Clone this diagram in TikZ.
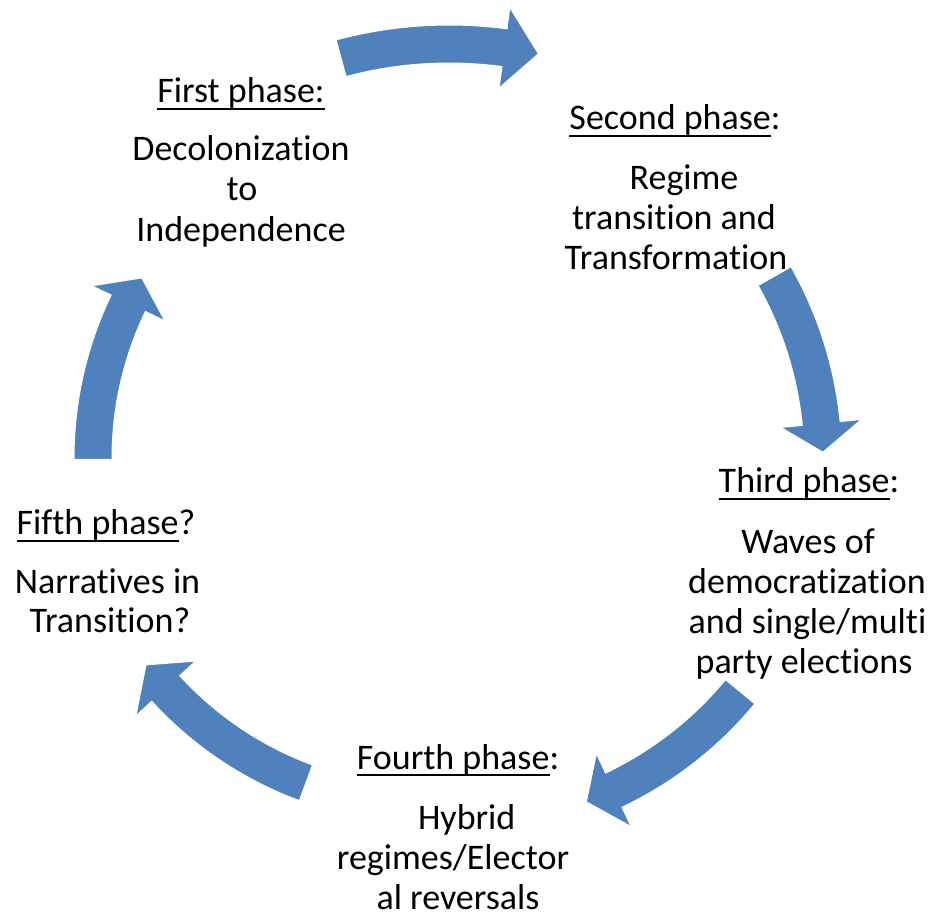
\documentclass[tikz,border=0pt]{standalone}
\usepackage{fontspec}
\setmainfont{Carlito}[Ligatures={NoCommon,NoContextual}]
\definecolor{arrowblue}{HTML}{4F81BD}
\newsavebox\phbox
\newcommand\phul[1]{\sbox\phbox{#1}\rlap{\rule[-7.4pt]{\wd\phbox}{2.6pt}}\usebox\phbox}
\tikzset{
  lbl/.style={anchor=base,inner sep=0pt,font=\fontsize{36pt}{40.5pt}\selectfont},
  blockarrow/.style={fill=arrowblue,draw=white,line width=2pt,line join=miter}
}
% #1 centre coordinate, #2 radius, #3 tail angle, #4 head-base angle, #5 head angle
\newcommand\cyclearrow[5]{%
  \pgfmathsetmacro\arRo{#2+19.5}%
  \pgfmathsetmacro\arRi{#2-19.5}%
  \pgfmathsetmacro\arHo{#2+42}%
  \pgfmathsetmacro\arHi{#2-42}%
  \pgfmathsetmacro\arTip{#4-#5}%
  \filldraw[blockarrow] ([shift={(#1)}]#3:\arRo) arc[start angle=#3,end angle=#4,radius=\arRo]
    -- ([shift={(#1)}]#4:\arHo) -- ([shift={(#1)}]\arTip:#2) -- ([shift={(#1)}]#4:\arHi)
    -- ([shift={(#1)}]#4:\arRi) arc[start angle=#4,end angle=#3,radius=\arRi] -- cycle;}
\begin{document}
\begin{tikzpicture}[x=1pt,y=1pt]
\useasboundingbox (0,0) rectangle (935,914);
% phase texts
\node[lbl] (p1t) at (241,811) {\phul{First phase:}};
\node[lbl] (p1a) at (241,753.3) {Decolonization};
\node[lbl] (p1b) at (242,713) {to};
\node[lbl] (p1c) at (241,672.3) {Independence};
\node[lbl] (p2t) at (675,784) {\phul{Second phase}:};
\node[lbl] (p2a) at (684,724) {Regime};
\node[lbl] (p2b) at (674,684) {transition and};
\node[lbl] (p2c) at (676,644) {Transformation};
\node[lbl] (p3t) at (809,421) {\phul{Third phase}:};
\node[lbl] (p3a) at (808,360) {Waves of};
\node[lbl] (p3b) at (807,320.7) {democratization};
\node[lbl] (p3c) at (807.5,280.7) {and single/multi};
\node[lbl] (p3d) at (804,240.7) {party elections};
\node[lbl] (p4t) at (458,145) {\phul{Fourth phase}:};
\node[lbl] (p4a) at (466.7,85) {Hybrid};
\node[lbl] (p4b) at (453,45) {regimes/Elector};
\node[lbl,text depth=0pt] (p4c) at (458,5) {al reversals};
\node[lbl] (p5t) at (106,379) {\phul{Fifth phase}?};
\node[lbl] (p5a) at (107.5,320.7) {Narratives in};
\node[lbl] (p5b) at (110,281) {Transition?};
% arrow centres
\coordinate (c1) at (449,454);
\coordinate (c2) at (450,454);
\coordinate (c3) at (455,458);
\coordinate (c4) at (430,467);
\coordinate (c5) at (450,456);
% curved block arrows
\cyclearrow{c1}{416}{105.1}{82.4}{4.9}
\cyclearrow{c2}{373}{29.6}{5.7}{4.6}
\cyclearrow{c3}{370}{-39.5}{-64.5}{4.8}
\cyclearrow{c4}{358}{-110.2}{-137.5}{5.1}
\cyclearrow{c5}{357}{180.3}{154.4}{4.8}
\end{tikzpicture}
\end{document}
